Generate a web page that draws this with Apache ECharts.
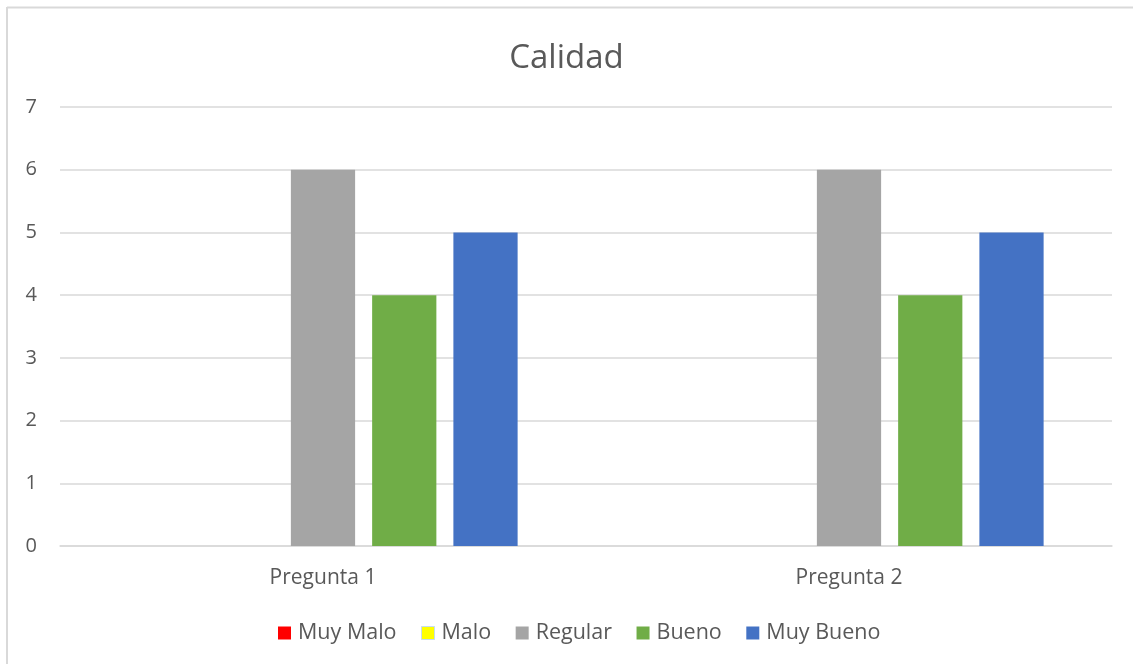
<!DOCTYPE html>
<html>
<head>
<meta charset="utf-8">
<script src="https://cdn.jsdelivr.net/npm/echarts@6/dist/echarts.min.js"></script>
<style>
  html, body { margin: 0; padding: 0; background: #fff; }
  #chart { width: 1133px; height: 664px; }
</style>
</head>
<body>
<div id="chart"></div>
<script>
// Survey answers per question
const categories = ['Pregunta 1', 'Pregunta 2'];
const seriesNames = ['Muy Malo', 'Malo', 'Regular', 'Bueno', 'Muy Bueno'];
const muyMalo = [0, 0];
const malo = [0, 0];
const regular = [6, 6];
const bueno = [4, 4];
const muyBueno = [5, 5];
const yTicks = [0, 1, 2, 3, 4, 5, 6, 7];

const seriesValues = [muyMalo, malo, regular, bueno, muyBueno];
const colors = ['#ff0000', '#ffff00', '#a5a5a5', '#70ad47', '#4472c4'];
const font = '"Open Sans", "Noto Sans", sans-serif';

const chart = echarts.init(document.getElementById('chart'), null, { renderer: 'canvas' });

chart.setOption({
  animation: false,
  backgroundColor: '#ffffff',
  title: {
    text: 'Calidad',
    left: 'center',
    top: 37,
    textStyle: { fontFamily: font, fontSize: 33, fontWeight: 'normal', color: '#595959' }
  },
  legend: {
    data: seriesNames.map((n, i) => ({
      name: n,
      itemStyle: i === 1 ? { color: colors[i], borderColor: '#c5dcf0', borderWidth: 1 } : { color: colors[i] }
    })),
    bottom: 15,
    left: 273,
    icon: 'rect',
    itemWidth: 13,
    itemHeight: 13,
    itemGap: 24.5,
    textStyle: { fontFamily: font, fontSize: 21.5, color: '#595959', padding: [0, 0, 0, 2] }
  },
  grid: { left: 60, right: 21, top: 107, bottom: 118, containLabel: false },
  xAxis: {
    type: 'category',
    data: categories,
    axisLine: { show: true, lineStyle: { color: '#d9d9d9', width: 1.5 } },
    axisTick: { show: false },
    axisLabel: { fontFamily: font, fontSize: 21, color: '#595959', margin: 22 }
  },
  yAxis: {
    type: 'value',
    min: yTicks[0],
    max: yTicks[yTicks.length - 1],
    interval: 1,
    axisLine: { show: false },
    axisTick: { show: false },
    splitLine: { lineStyle: { color: '#d9d9d9', width: 1.5 } },
    axisLabel: { fontFamily: font, fontSize: 20, color: '#595959', margin: 23 }
  },
  series: seriesNames.map((name, i) => ({
    name: name,
    type: 'bar',
    data: seriesValues[i],
    itemStyle: { color: colors[i] },
    barGap: '26.5%',
    barCategoryGap: '26%'
  })),
  graphic: [
    { type: 'line', shape: { x1: 7, y1: 7.5, x2: 1133, y2: 7.5 }, style: { stroke: '#d9d9d9', lineWidth: 2 } },
    { type: 'line', shape: { x1: 7, y1: 7, x2: 7, y2: 664 }, style: { stroke: '#d9d9d9', lineWidth: 2 } }
  ]
});
</script>
</body>
</html>
